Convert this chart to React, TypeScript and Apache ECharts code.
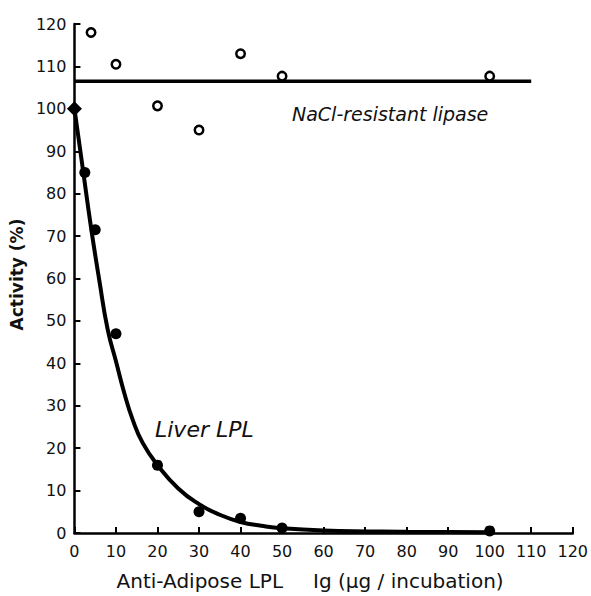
import React, { useEffect, useRef } from "react";
import * as echarts from "echarts";

// Liver LPL measured points (filled)
const liverX = [0, 2.5, 5, 10, 20, 30, 40, 50, 100];
const liverY = [100, 85, 71.5, 47, 16, 5, 3.5, 1.2, 0.5];

// Liver LPL fitted curve
const curveX = [0, 2, 4, 6, 8, 10, 12, 14, 16.4, 20, 25, 30, 35, 40, 45, 50, 60, 80, 100];
const curveY = [100, 86, 72, 59.5, 48, 40.5, 33, 26.8, 21.3, 16, 10.5, 6.8, 4.3, 2.6, 1.7, 1.1, 0.6, 0.3, 0.2];

// NaCl-resistant lipase points (open)
const naclX = [4, 10, 20, 30, 40, 50, 100];
const naclY = [118, 110.5, 100.7, 95, 113, 107.7, 107.7];

// NaCl-resistant lipase mean line
const naclLineX = [0, 110];
const naclLineY = [106.5, 106.5];

const xTicks = { min: 0, max: 120, interval: 10 };
const yTicks = { min: 0, max: 120, interval: 10 };

const FONT = "DejaVu Sans";

export default function App() {
  const ref = useRef<HTMLDivElement>(null);
  useEffect(() => {
    if (!ref.current) return;
    const chart = echarts.init(ref.current, undefined, { renderer: "svg" });
    const axisCommon = {
      type: "value" as const,
      splitLine: { show: false },
      axisLine: { show: true, lineStyle: { color: "#000", width: 2.5 } },
      axisTick: { show: true, inside: true, length: 6, lineStyle: { color: "#000", width: 2 } },
      axisLabel: { color: "#111", fontFamily: FONT, fontSize: 16 },
    };
    chart.setOption({
      animation: false,
      backgroundColor: "#fff",
      grid: { left: 71, right: 16, top: 24, bottom: 58, containLabel: false },
      xAxis: {
        ...axisCommon,
        ...xTicks,
        name: "Anti-Adipose LPL\u2003\u2002Ig (µg / incubation)",
        nameLocation: "middle",
        nameGap: 38,
        nameTextStyle: {
          color: "#111",
          fontFamily: FONT,
          fontSize: 20,
          padding: [0, 27, 0, 0],
        },
        axisLabel: { ...axisCommon.axisLabel, margin: 10 },
      },
      yAxis: {
        ...axisCommon,
        ...yTicks,
        name: "Activity (%)",
        nameLocation: "middle",
        nameGap: 41,
        nameRotate: 90,
        nameTextStyle: {
          color: "#111",
          fontFamily: FONT,
          fontSize: 17,
          fontWeight: "bold",
          padding: [0, 0, 0, 8],
        },
        axisLabel: { ...axisCommon.axisLabel, margin: 8 },
      },
      series: [
        {
          name: "Liver LPL curve",
          type: "line",
          data: curveX.map((x, i) => [x, curveY[i]]),
          smooth: 0.5,
          showSymbol: false,
          lineStyle: { color: "#000", width: 4 },
          z: 3,
        },
        {
          name: "NaCl line",
          type: "line",
          data: naclLineX.map((x, i) => [x, naclLineY[i]]),
          showSymbol: false,
          lineStyle: { color: "#000", width: 3.5 },
          z: 3,
        },
        {
          name: "Liver LPL",
          type: "scatter",
          data: liverX.map((x, i) => ({
            value: [x, liverY[i]],
            symbol: i === 0 ? "diamond" : "circle",
            symbolSize: i === 0 ? 15 : 11,
          })),
          itemStyle: { color: "#000", opacity: 1 },
          z: 4,
        },
        {
          name: "NaCl-resistant lipase",
          type: "scatter",
          data: naclX.map((x, i) => [x, naclY[i]]),
          symbol: "circle",
          symbolSize: 8.5,
          itemStyle: { color: "#fff", borderColor: "#000", borderWidth: 2.5, opacity: 1 },
          z: 4,
        },
      ],
      graphic: [
        {
          type: "text",
          left: 292,
          top: 104,
          style: {
            text: "NaCl-resistant lipase",
            fill: "#111",
            font: `italic 19px "${FONT}"`,
          },
        },
        {
          type: "text",
          left: 155,
          top: 418,
          style: {
            text: "Liver LPL",
            fill: "#111",
            font: `italic 22px "${FONT}"`,
          },
        },
      ],
    });
    return () => chart.dispose();
  }, []);
  return (
    <div
      ref={ref}
      style={{ position: "fixed", left: 0, top: 0, width: 591, height: 596, background: "#fff" }}
    />
  );
}
